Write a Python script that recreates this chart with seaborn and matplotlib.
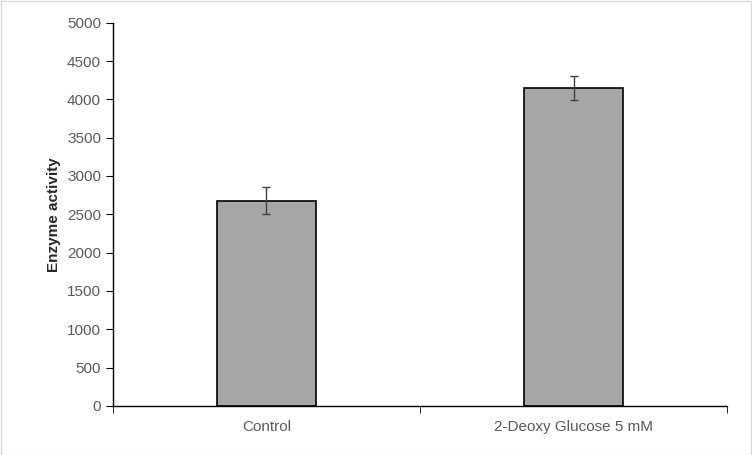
import matplotlib
matplotlib.use('Agg')
import matplotlib.pyplot as plt
import seaborn as sns
import pandas as pd

groups = ['Control', '2-Deoxy Glucose 5 mM']
activity = [2680, 4150]
errors = [170, 160]

df = pd.DataFrame({'group': groups, 'activity': activity})

sns.set_style('white')
plt.rcParams['font.family'] = ['Liberation Sans', 'DejaVu Sans']

fig = plt.figure(figsize=(7.52, 4.55), dpi=100)
ax = fig.add_axes([0.150, 0.108, 0.817, 0.842])

sns.barplot(data=df, x='group', y='activity', color='#a6a6a6', width=0.32,
            edgecolor='black', linewidth=1.2, saturation=1, ax=ax, errorbar=None)
ax.errorbar(range(len(groups)), activity, yerr=errors, fmt='none',
            ecolor='#404040', elinewidth=1, capsize=3)

ax.set_xlim(-0.5, 1.5)
ax.set_ylim(0, 5000)
ax.set_yticks(range(0, 5001, 500))
ax.set_xlabel('')
ax.set_ylabel('Enzyme activity', fontsize=11, fontweight='bold')
ax.tick_params(axis='both', labelsize=11, colors='#595959')
ax.tick_params(axis='y', direction='out', length=5, left=True, color='black')
ax.tick_params(axis='x', length=0, pad=10)
ax.set_xticks([-0.5, 0.5, 1.5], minor=True)
ax.tick_params(axis='x', which='minor', direction='out', length=5, bottom=True, color='black')
for s in ['top', 'right']:
    ax.spines[s].set_visible(False)
for s in ['left', 'bottom']:
    ax.spines[s].set_color('black')
    ax.spines[s].set_linewidth(1)

fig.patches.append(plt.Rectangle((0.001, 0.001), 0.998, 0.997, transform=fig.transFigure,
                                 fill=False, edgecolor='#d9d9d9', linewidth=1))
fig.savefig('out.png', dpi=100)
